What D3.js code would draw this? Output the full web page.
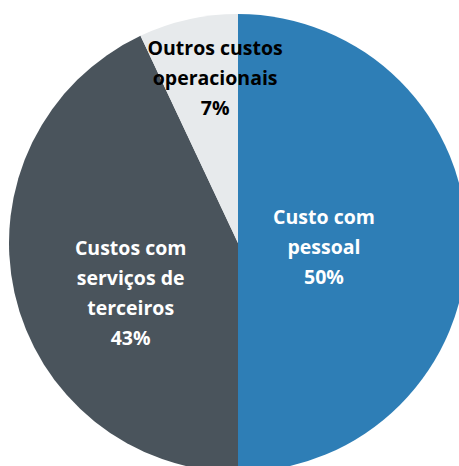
<!DOCTYPE html>
<html lang="pt">
<head>
  <meta charset="UTF-8">
  <title>Composição dos custos</title>
  <style>
      body { margin: 0; background: #fff; }
      .label { font-family: "Open Sans", sans-serif; font-weight: bold; font-size: 19.5px; }
  </style>
</head>
<body>
<div id="pie-chart"></div>
<script src="https://d3js.org/d3.v7.min.js"></script>
<script>
  const categories = ['Custo com pessoal', 'Custos com serviços de terceiros', 'Outros custos operacionais'];
  const labelLines = [
    ['Custo com', 'pessoal'],
    ['Custos com', 'serviços de', 'terceiros'],
    ['Outros custos', 'operacionais']
  ];
  const values = [50, 43, 7];

  document.addEventListener('DOMContentLoaded', function () {
    const width = 459, height = 466;
    const cx = 238, cy = 243, radius = 229;

    const colors = ['#2e7eb6', '#4a545c', '#e7eaec'];
    const textColors = ['#fff', '#fff', '#000'];
    // label placement: radius for the centroid, then a small nudge
    const labelLayout = [
      {r: 86, dx: 0, dy: 4},
      {r: 110, dx: 0, dy: 26},
      {r: 169, dx: 14, dy: 0}
    ];
    const lineHeight = 30;

    const svg = d3.select("#pie-chart").append("svg")
      .attr("width", width)
      .attr("height", height)
      .append("g")
      .attr("transform", `translate(${cx},${cy})`);

    const pie = d3.pie().sort(null).value(d => d);
    const arcs = pie(values);

    const arc = d3.arc().innerRadius(0).outerRadius(radius);

    svg.selectAll(".slice")
      .data(arcs)
      .enter().append("path")
      .attr("class", "slice")
      .attr("d", arc)
      .attr("fill", (d, i) => colors[i]);

    const labels = svg.selectAll(".label")
      .data(arcs)
      .enter().append("text")
      .attr("class", "label")
      .attr("text-anchor", "middle")
      .attr("fill", (d, i) => textColors[i])
      .attr("transform", (d, i) => {
        const l = labelLayout[i];
        const c = d3.arc().innerRadius(l.r).outerRadius(l.r).centroid(d);
        return `translate(${c[0] + l.dx},${c[1] + l.dy})`;
      });

    labels.each(function (d, i) {
      const lines = labelLines[i].concat([values[i] + '%']);
      const top = -(lines.length - 1) * lineHeight / 2;
      d3.select(this).selectAll("tspan")
        .data(lines)
        .enter().append("tspan")
        .attr("x", 0)
        .attr("y", (t, j) => top + j * lineHeight)
        .attr("dy", "0.35em")
        .text(t => t);
    });
  });
</script>
</body>
</html>
